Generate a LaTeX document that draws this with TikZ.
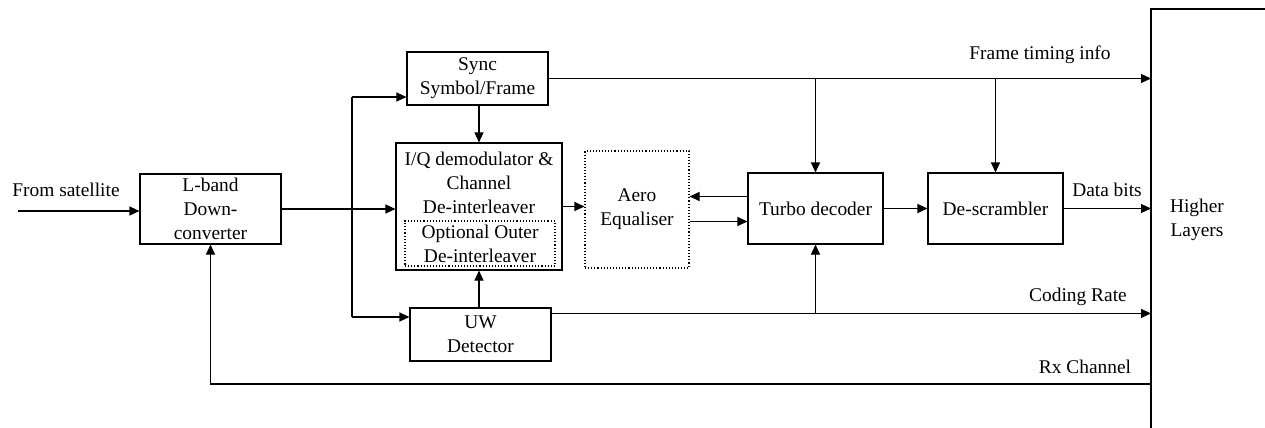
\documentclass[tikz,border=0pt]{standalone}
\usepackage{fontspec}
\setmainfont{Liberation Serif}
\usetikzlibrary{arrows.meta}

\tikzstyle{block}=[draw, line width=0.55pt, align=center, inner sep=0pt, font=\fontsize{9.7}{12}\selectfont]
\tikzstyle{dotblock}=[block, densely dotted]
\tikzstyle{lbl}=[align=center, inner sep=0pt, font=\fontsize{9.7}{12}\selectfont]
\tikzstyle{arr}=[line width=0.55pt, -{Triangle[length=5pt,width=4.5pt]}]
\tikzstyle{wire}=[line width=0.55pt]

\begin{document}
\begin{tikzpicture}[x=0.5pt,y=-0.5pt]
\useasboundingbox (0,0) rectangle (1265,428);

% receiver blocks
\node[block, minimum width=70.5pt, minimum height=35pt] (lband) at (210.5,209) {L-band\\Down-\\converter};
\node[block, minimum width=70.5pt, minimum height=26.5pt] (sync) at (477.5,78.5) {Sync\\Symbol/Frame};
\node[block, minimum width=83pt, minimum height=63.5pt] (iq) at (479,206.5) {};
\node[lbl] (iqtext) at (479,183) {I/Q demodulator \&\\Channel\\De-interleaver};
\node[dotblock, minimum width=75pt, minimum height=22.5pt] (outer) at (480,243.5) {Optional Outer\\De-interleaver};
\node[block, minimum width=70.5pt, minimum height=26.5pt] (uw) at (480.5,334.5) {UW\\Detector};
\node[dotblock, minimum width=52pt, minimum height=58.5pt] (aero) at (637,209.5) {Aero\\Equaliser};
\node[block, minimum width=67.5pt, minimum height=35.5pt] (turbo) at (815.5,208.5) {Turbo decoder};
\node[block, minimum width=67.5pt, minimum height=35.5pt] (descr) at (995.5,208.5) {De-scrambler};

% higher layers
\draw[wire] (1265,9) -- (1151,9) -- (1151,430);
\node[lbl] (hl) at (1197,220) {Higher\\Layers};
\coordinate (edge) at (1151,220);

% labels
\node[lbl] (fromsat) at (66,190) {From satellite};
\node[lbl] (ftinfo) at (1040,55) {Frame timing info};
\node[lbl] (dbits) at (1107,190) {Data bits};
\node[lbl] (crate) at (1078,297) {Coding Rate};
\node[lbl] (rxch) at (1085,367) {Rx Channel};

% input and splitter
\coordinate (src) at (18,211);
\coordinate (bustop) at (352,97);
\coordinate (busbot) at (352,317);
\coordinate (cr) at ([yshift=-3pt]uw.north east);
\coordinate (rx) at (1151,384);

\draw[arr] (src) -- (src -| lband.west);
\draw[arr] (lband.east) -- (lband.east -| iq.west);
\draw[wire] (bustop) -- (busbot);
\draw[arr] (bustop) -- (bustop -| sync.west);
\draw[arr] (busbot) -- (busbot -| uw.west);
\draw[arr] (iq.north |- sync.south) -- (iq.north);
\draw[arr] (iq.south |- uw.north) -- (iq.south);
\draw[arr] (iq.east) -- (iq.east -| aero.west);
\draw[arr] ([yshift=6pt]turbo.west) -- ([yshift=6pt]turbo.west -| aero.east);
\draw[arr] ([yshift=-6pt]aero.east) -- ([yshift=-6pt]aero.east -| turbo.west);
\draw[arr] (turbo.east) -- (descr.west);

% outputs
\draw[arr] (sync.east) -- (sync.east -| edge);
\draw[arr] (turbo.north |- sync.east) -- (turbo.north);
\draw[arr] (descr.north |- sync.east) -- (descr.north);
\draw[arr] (descr.east) -- (descr.east -| edge);
\draw[arr] (cr) -- (cr -| edge);
\draw[arr] (turbo.south |- cr) -- (turbo.south);
\draw[arr] (rx) -- (rx -| lband.south) -- (lband.south);
\end{tikzpicture}
\end{document}
